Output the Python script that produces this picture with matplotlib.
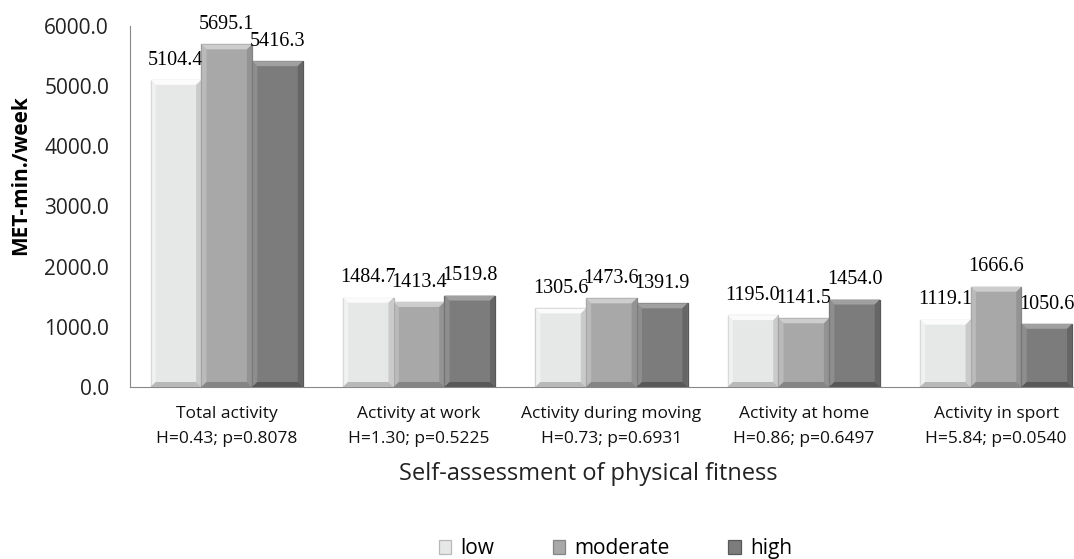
import numpy as np
import matplotlib.pyplot as plt
from matplotlib.patches import Polygon

# MET-min./week by self-assessed physical fitness
categories = ["Total activity\nH=0.43; p=0.8078",
              "Activity at work\nH=1.30; p=0.5225",
              "Activity during moving\nH=0.73; p=0.6931",
              "Activity at home\nH=0.86; p=0.6497",
              "Activity in sport\nH=5.84; p=0.0540"]
low = [5104.4, 1484.7, 1305.6, 1195.0, 1119.1]
moderate = [5695.1, 1413.4, 1473.6, 1141.5, 1666.6]
high = [5416.3, 1519.8, 1391.9, 1454.0, 1050.6]
series_names = ["low", "moderate", "high"]
yticks = [0, 1000, 2000, 3000, 4000, 5000, 6000]

colors = ["#e6e7e7", "#a8a8a8", "#7c7c7c"]
light = ["#fbfbfb", "#cdcdcd", "#a0a0a0"]
dark = ["#b8b8b8", "#858585", "#585858"]

fig = plt.figure(figsize=(10.74, 5.59), dpi=100)
ax = fig.add_axes([0.121, 0.3077, 0.879, 0.6458])

x = np.arange(len(categories))
w = 0.264
ymax = 6000
# bevel size in data units (about 5 px)
bx = 0.027
by = 5 * ymax / 361


def bevel(ax, x0, h, i):
    x1 = x0 + w
    ax.add_patch(Polygon([(x0, h), (x1, h), (x1 - bx, h - by), (x0 + bx, h - by)],
                         closed=True, fc=light[i], ec="none", zorder=3))
    ax.add_patch(Polygon([(x0, 0), (x0, h), (x0 + bx, h - by), (x0 + bx, by)],
                         closed=True, fc=light[i], ec="none", zorder=3, alpha=0.5))
    ax.add_patch(Polygon([(x1, 0), (x1, h), (x1 - bx, h - by), (x1 - bx, by)],
                         closed=True, fc=dark[i], ec="none", zorder=3, alpha=0.6))
    ax.add_patch(Polygon([(x0, 0), (x1, 0), (x1 - bx, by), (x0 + bx, by)],
                         closed=True, fc=dark[i], ec="none", zorder=3))


handles = []
for i, vals in enumerate([low, moderate, high]):
    pos = x + (i - 1) * w
    bars = ax.bar(pos, vals, w, color=colors[i], edgecolor=dark[i], linewidth=0.9,
                  label=series_names[i], zorder=2)
    handles.append(bars)
    for b, v in zip(bars, vals):
        bevel(ax, b.get_x(), v, i)
        ax.annotate(f"{v:.1f}", (b.get_x() + w / 2, v), xytext=(0, 11),
                    textcoords="offset points", ha="center", va="baseline",
                    fontsize=14.5, family="Liberation Serif", color="#000000")

ax.set_xlim(-0.503, 4.405)
ax.set_ylim(0, ymax)
ax.set_yticks(yticks)
ax.set_yticklabels([f"{t:.1f}" for t in yticks], fontsize=15, family="Open Sans", color="#222222")
ax.set_xticks(x)
ax.set_xticklabels(categories, fontsize=12.5, family="Open Sans", color="#111111", linespacing=1.7)
ax.tick_params(length=0, pad=14, axis="x")
ax.tick_params(length=0, pad=15, axis="y")

for s in ["top", "right"]:
    ax.spines[s].set_visible(False)
ax.spines["left"].set_color("#888888")
ax.spines["bottom"].set_color("#888888")

ax.set_ylabel("MET-min./week", fontsize=15, fontweight="bold", family="Open Sans")
ax.yaxis.set_label_coords(-0.105, 0.587)
fig.text(0.548, 0.152, "Self-assessment of physical fitness", ha="center", va="center",
         fontsize=17, family="Open Sans", color="#222222")

fig.legend(handles=handles, loc="center", bbox_to_anchor=(0.573, 0.018), ncol=3,
           frameon=False, handlelength=0.6, handleheight=0.6, handletextpad=0.45,
           columnspacing=2.8, prop={"family": "Open Sans", "size": 15})

fig.savefig("out.png", dpi=100)
